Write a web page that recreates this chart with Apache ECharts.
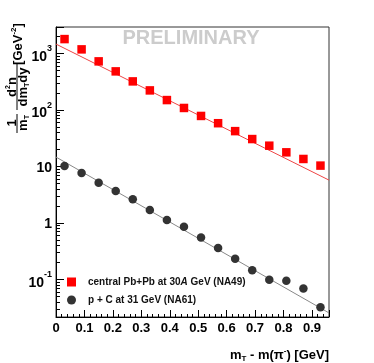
<!DOCTYPE html>
<html>
<head>
<meta charset="utf-8">
<script src="https://cdn.jsdelivr.net/npm/echarts@6/dist/echarts.min.js"></script>
<style>
  html, body { margin: 0; padding: 0; background: #fff; }
  #main { width: 374px; height: 363px; }
</style>
</head>
<body>
<div id="main"></div>
<script type="text/javascript">
// mT - m bins [GeV]
var mtBins = [0.03, 0.09, 0.15, 0.21, 0.27, 0.33, 0.39, 0.45, 0.51, 0.57, 0.63, 0.69, 0.75, 0.81, 0.87, 0.93];
// central Pb+Pb at 30A GeV (NA49)
var pbpbVals = [1790, 1177, 722, 480, 319, 221, 149, 108, 78, 58, 42, 30.4, 23.2, 17.7, 13.5, 10.3];
// p + C at 31 GeV (NA61)
var pcVals = [10.1, 7.6, 5.1, 3.66, 2.62, 1.69, 1.12, 0.85, 0.55, 0.358, 0.232, 0.144, 0.098, 0.094, 0.069, 0.032];
// fit lines, end points
var fitX = [0, 0.96];
var pbpbFit = [1460, 5.7];
var pcFit = [14.6, 0.0254];

var nameA = 'central Pb+Pb at 30A GeV (NA49)';
var nameB = 'p + C at 31 GeV (NA61)';
var font = 'Liberation Sans, Arial, sans-serif';

function pairs(xs, ys) {
  var out = [];
  for (var i = 0; i < xs.length; i++) {
    out.push([xs[i], ys[i]]);
  }
  return out;
}

var chart = echarts.init(document.getElementById('main'), null, {renderer: 'canvas'});

var option = {
  animation: false,
  textStyle: {fontFamily: font},
  grid: {
    left: 56, right: 45, top: 27, bottom: 46,
    show: true, borderColor: '#333', borderWidth: 1
  },
  legend: {
    data: [
      {name: nameA, icon: 'rect'},
      {name: nameB, icon: 'circle'}
    ],
    orient: 'vertical',
    left: 62, top: 272,
    itemWidth: 9, itemHeight: 9, itemGap: 8,
    textStyle: {
      fontFamily: font, fontSize: 10, fontWeight: 'bold', color: '#111',
      padding: [0, 0, 0, 7],
      rich: {
        i: {fontFamily: font, fontSize: 10, fontWeight: 'bold', fontStyle: 'italic', color: '#111'}
      }
    },
    formatter: function (name) {
      return name.replace('30A', '30{i|A}');
    }
  },
  xAxis: {
    type: 'value',
    min: 0, max: 0.96, interval: 0.1,
    axisLine: {show: true, lineStyle: {color: '#000', width: 1}},
    axisTick: {show: true, inside: true, length: 7, lineStyle: {color: '#000'}},
    minorTick: {show: true, splitNumber: 5, length: 3, lineStyle: {color: '#000'}},
    splitLine: {show: false},
    axisLabel: {
      margin: 5, fontSize: 13, fontWeight: 'bold', color: '#000',
      showMaxLabel: false,
      formatter: function (v) {
        if (Math.abs(v * 10 - Math.round(v * 10)) > 1e-6) return '';
        return v === 0 ? '0' : v.toFixed(1);
      }
    }
  },
  yAxis: {
    type: 'log', logBase: 10,
    min: 0.0215, max: 2930,
    axisLine: {show: true, lineStyle: {color: '#000', width: 1}},
    axisTick: {show: true, inside: true, length: 8, lineStyle: {color: '#000'}},
    minorTick: {show: true, splitNumber: 9, length: 4, lineStyle: {color: '#000'}},
    splitLine: {show: false},
    axisLabel: {
      margin: 4, color: '#000',
      showMinLabel: false, showMaxLabel: false,
      formatter: function (v) {
        var lg = Math.log(v) / Math.LN10;
        var e = Math.round(lg);
        if (Math.abs(lg - e) > 1e-6) return '';
        if (e === 0) return '{b|1}';
        if (e === 1) return '{b|10}';
        return '{p|10}{s|' + e + '}';
      },
      rich: {
        b: {fontFamily: font, fontSize: 14, fontWeight: 'bold', color: '#000', padding: [3, 0, 0, 0]},
        p: {fontFamily: font, fontSize: 14, fontWeight: 'bold', color: '#000', padding: [7, 0, 0, 0]},
        s: {fontFamily: font, fontSize: 9, fontWeight: 'bold', color: '#000', padding: [0, 0, 9, 0]}
      }
    }
  },
  graphic: [
    {
      type: 'text', x: 191, y: 38,
      style: {text: 'PRELIMINARY', font: 'bold 20px ' + font, fill: '#cccccc', align: 'center', verticalAlign: 'middle'}
    },
    {
      type: 'text', x: 329, y: 355,
      style: {
        text: '{a|m}{u|T}{a| - m(π}{s|-}{a|) [GeV]}',
        align: 'right', verticalAlign: 'middle',
        rich: {
          a: {font: 'bold 13px ' + font, fill: '#000'},
          u: {font: 'bold 8px ' + font, fill: '#000', padding: [8, 0, 0, 0]},
          s: {font: 'bold 8px ' + font, fill: '#000', padding: [0, 0, 8, 0]}
        }
      }
    },
    // y title, rotated
    {
      type: 'text', x: 18, y: 44, rotation: Math.PI / 2,
      style: {
        text: '{a|[GeV}{s|-2}{a|]}',
        align: 'center', verticalAlign: 'middle',
        rich: {
          a: {font: 'bold 13px ' + font, fill: '#000'},
          s: {font: 'bold 8px ' + font, fill: '#000', padding: [0, 0, 8, 0]}
        }
      }
    },
    {
      type: 'text', x: 12, y: 87, rotation: Math.PI / 2,
      style: {
        text: '{a|d}{s|2}{a|n}',
        align: 'center', verticalAlign: 'middle',
        rich: {
          a: {font: 'bold 13px ' + font, fill: '#000'},
          s: {font: 'bold 7px ' + font, fill: '#000', padding: [0, 0, 7, 0]}
        }
      }
    },
    {
      type: 'line', shape: {x1: 17, y1: 64, x2: 17, y2: 110},
      style: {stroke: '#000', lineWidth: 1}
    },
    {
      type: 'text', x: 23.5, y: 87, rotation: Math.PI / 2,
      style: {
        text: '{a|dm}{u|T}{a|dy}',
        align: 'center', verticalAlign: 'middle',
        rich: {
          a: {font: 'bold 13px ' + font, fill: '#000'},
          u: {font: 'bold 7px ' + font, fill: '#000', padding: [7, 0, 0, 0]}
        }
      }
    },
    {
      type: 'text', x: 12, y: 123, rotation: Math.PI / 2,
      style: {text: '1', font: 'bold 13px ' + font, fill: '#000', align: 'center', verticalAlign: 'middle'}
    },
    {
      type: 'line', shape: {x1: 17, y1: 114, x2: 17, y2: 133},
      style: {stroke: '#000', lineWidth: 1}
    },
    {
      type: 'text', x: 23.5, y: 123, rotation: Math.PI / 2,
      style: {
        text: '{a|m}{u|T}',
        align: 'center', verticalAlign: 'middle',
        rich: {
          a: {font: 'bold 13px ' + font, fill: '#000'},
          u: {font: 'bold 7px ' + font, fill: '#000', padding: [7, 0, 0, 0]}
        }
      }
    }
  ],
  series: [
    {
      name: 'fitA', type: 'line', data: pairs(fitX, pbpbFit),
      showSymbol: false, symbol: 'none', clip: true, silent: true,
      lineStyle: {color: '#ee4444', width: 1}, z: 1
    },
    {
      name: 'fitB', type: 'line', data: pairs(fitX, pcFit),
      showSymbol: false, symbol: 'none', clip: true, silent: true,
      lineStyle: {color: '#888888', width: 1}, z: 1
    },
    {
      name: nameA, type: 'scatter', data: pairs(mtBins, pbpbVals),
      symbol: 'rect', symbolSize: 8.5,
      itemStyle: {color: '#ff0000', opacity: 1}, z: 3
    },
    {
      name: nameB, type: 'scatter', data: pairs(mtBins, pcVals),
      symbol: 'circle', symbolSize: 8.5,
      itemStyle: {color: '#333333', opacity: 1}, z: 3
    }
  ]
};

chart.setOption(option);
</script>
</body>
</html>
